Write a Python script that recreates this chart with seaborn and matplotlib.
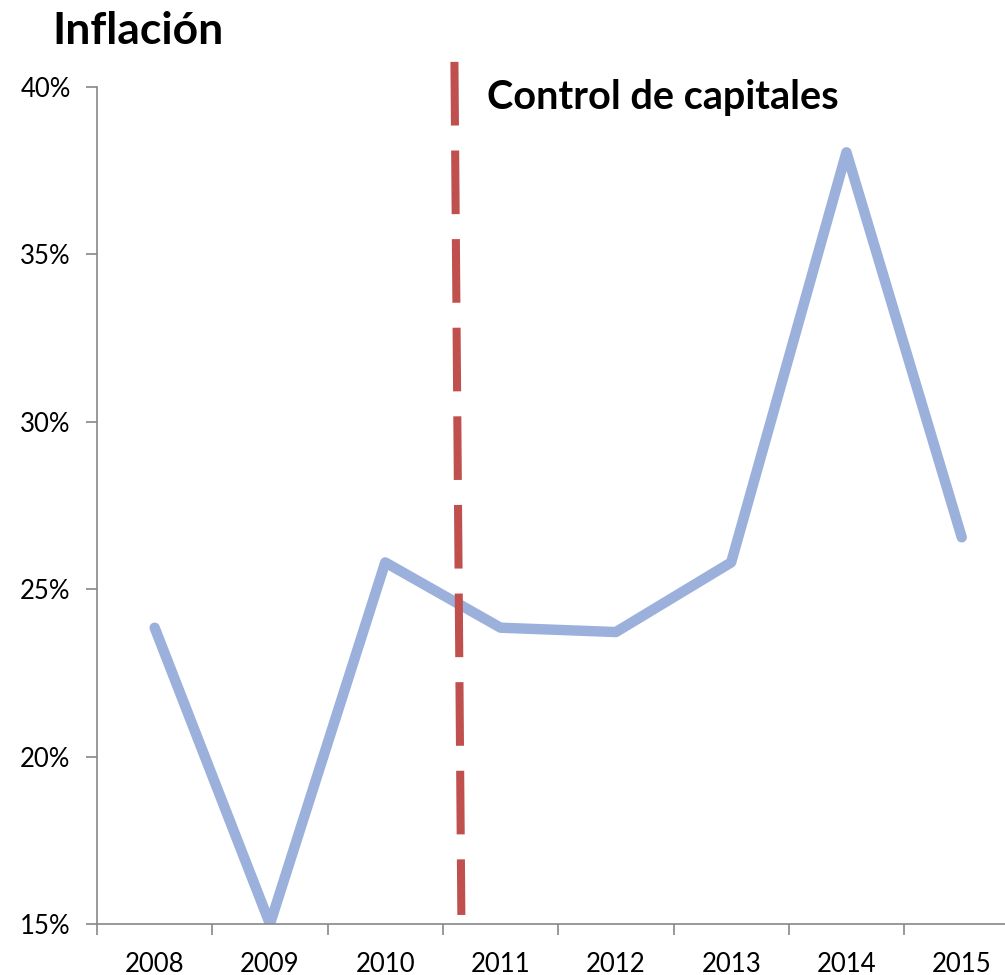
import matplotlib
matplotlib.use("Agg")
import matplotlib.pyplot as plt
import numpy as np
import pandas as pd
import seaborn as sns

years = ["2008", "2009", "2010", "2011", "2012", "2013", "2014", "2015"]
inflation = [23.85, 15.0, 25.8, 23.85, 23.72, 25.8, 38.05, 26.55]

# dashed marker for capital controls (between 2010 and 2011)
control_x = [2.60, 2.66]
control_y = [40.75, 15.27]
control_label = "Control de capitales"
title = "Inflación"

df = pd.DataFrame({"year": np.arange(len(years)), "inflation": inflation})

sns.set_style("white")
plt.rcParams["font.family"] = ["Lato", "DejaVu Sans"]

fig = plt.figure(figsize=(10.05, 9.75), dpi=100)
ax = fig.add_axes([97 / 1005, 51 / 975, 922.4 / 1005, 837 / 975])

sns.lineplot(data=df, x="year", y="inflation", color="#9BB1DC",
             linewidth=7.5, ax=ax)
ax.plot(control_x, control_y, color="#C0504D", linewidth=5.8,
        dashes=(7.9, 3.1), clip_on=False, solid_capstyle="butt",
        dash_capstyle="butt")

ax.set_xlim(-0.5, len(years) - 0.5)
ax.set_ylim(15, 40)
ax.set_yticks([15, 20, 25, 30, 35, 40])
ax.set_yticklabels([f"{v}%" for v in [15, 20, 25, 30, 35, 40]])
ax.set_xticks(np.arange(len(years)))
ax.set_xticklabels(years)
ax.set_xticks(np.arange(len(years) + 1) - 0.5, minor=True)
ax.tick_params(axis="x", which="major", length=0, pad=20, labelsize=18.5,
               labelcolor="black")
ax.tick_params(axis="x", which="minor", length=8, width=1.2, color="#888888",
               direction="out", bottom=True)
ax.tick_params(axis="y", length=8, width=1.2, color="#888888", pad=11,
               labelsize=18.5, left=True, direction="out", labelcolor="black")
ax.set_xlabel("")
ax.set_ylabel("")

for side in ["top", "right"]:
    ax.spines[side].set_visible(False)
for side in ["left", "bottom"]:
    ax.spines[side].set_color("#888888")
    ax.spines[side].set_linewidth(1.2)

fig.text(52 / 1005, 1 - 31 / 975, title, fontsize=32, fontweight="bold",
         va="center", ha="left", color="black")
fig.text(487 / 1005, 1 - 98 / 975, control_label, fontsize=28.5,
         fontweight="bold", va="center", ha="left", color="black")

fig.savefig("out.png", dpi=100)
